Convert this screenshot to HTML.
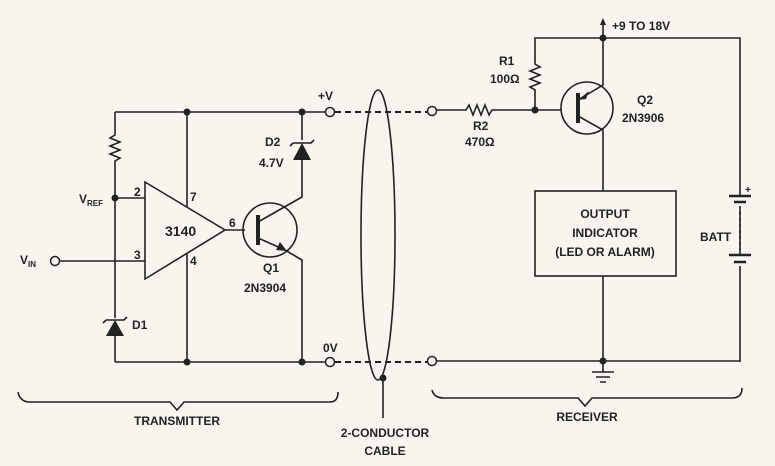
<!DOCTYPE html>
<html><head><meta charset="utf-8"><style>
html,body{margin:0;padding:0;background:#f7f5ee;}
svg{display:block;}
text{font-family:"Liberation Sans",sans-serif;fill:#222;font-weight:bold;}
</style></head><body>
<svg width="775" height="466" viewBox="0 0 775 466" xmlns="http://www.w3.org/2000/svg">
<rect width="775" height="466" fill="#f7f5ee"/>
<g stroke="#222" stroke-width="1.6" fill="none">
<path d="M115 112 H325 M115 362 H325"/>
<path d="M115 112 V135 l-5 3 10 4 -10 4 10 4 -10 4 10 4 -5 3 V198 V318 M115 336 V362"/>
<path d="M115 198 H145 M60 261 H145"/>
<path d="M145 182 L225 230 L145 279 Z"/>
<path d="M187 112 V207 M187 254 V362"/>
<path d="M225 230 H245"/>
<circle cx="270" cy="230" r="27"/>
<path d="M258 215 V245" stroke-width="4"/>
<path d="M258 222 L302 197 V160 M302 140 V112"/>
<path d="M258 238 L285 250 L302 260 V362"/>
<path d="M293 143 h18 l3 -3 M293 143 l-3 3"/>
<path d="M106 320 h18 l3 -3 M106 320 l-3 3"/>
<path d="M335 112 H428 M335 362 H428" stroke-dasharray="6 4" stroke-width="2"/>
<ellipse cx="378" cy="235" rx="17" ry="145"/>
<path d="M383 378 V418"/>
<path d="M437 110 H466 l3 -5 4 10 4 -10 4 10 4 -10 4 10 3 -5 H561"/>
<path d="M535 110 V90 l-5 -3 10 -4 -10 -4 10 -4 -10 -4 10 -4 -5 -3 V38 H740 V196 M740 206 V255 M740 266 V362"/>
<path d="M603 38 V20"/>
<circle cx="587" cy="108" r="26"/>
<path d="M578 93 V123" stroke-width="4"/>
<path d="M578 100 L603 85 V38 M578 116 L603 130 V191"/>
<rect x="535" y="191" width="141" height="85"/>
<path d="M603 276 V372 M437 361 H740"/>
<path d="M592 372 h22 M596 377 h14 M600 382 h6"/>
<path d="M729 196 h22 M734 202 h12 M729 255 h22 M734 262 h12" stroke-width="2.5"/>
<path d="M740 212 V250" stroke-dasharray="3 3"/>
<path d="M18 392 Q20 402 30 402 H170 L177 410 L184 402 H330 Q338 402 338 392"/>
<path d="M432 390 Q434 398 444 398 H578 L585 406 L592 398 H732 Q742 398 742 388"/>
</g>
<g fill="#222">
<circle cx="115" cy="198" r="3.5"/>
<circle cx="187" cy="112" r="3.5"/><circle cx="187" cy="362" r="3.5"/>
<circle cx="302" cy="112" r="3.5"/><circle cx="302" cy="362" r="3.5"/>
<circle cx="535" cy="110" r="3.5"/><circle cx="603" cy="38" r="3.5"/>
<circle cx="603" cy="361" r="3.5"/><circle cx="383" cy="378" r="3.5"/>
<path d="M293 160 L311 160 L302 143 Z"/>
<path d="M106 336 L124 336 L115 320 Z"/>
<path d="M287 251 L276 250 L280 242 Z"/>
<path d="M578 100 L589 91 L586 99 Z"/>
<path d="M603 18 l-3 7 h6 Z"/>
</g>
<g fill="#f7f5ee" stroke="#222" stroke-width="1.5">
<circle cx="55" cy="261" r="4.5"/><circle cx="330" cy="112" r="4.5"/><circle cx="330" cy="362" r="4.5"/>
<circle cx="432" cy="111" r="4.5"/><circle cx="432" cy="361" r="4.5"/>
</g>
<g font-size="12">
<text x="165" y="236" font-size="14">3140</text>
<text x="134" y="196">2</text><text x="134" y="259">3</text>
<text x="190" y="201">7</text><text x="190" y="265">4</text>
<text x="229" y="227">6</text>
<text x="79" y="203">V<tspan font-size="8" dy="3">REF</tspan></text>
<text x="20" y="264">V<tspan font-size="8" dy="3">IN</tspan></text>
<text x="265" y="146">D2</text><text x="259" y="167">4.7V</text>
<text x="132" y="329">D1</text>
<text x="263" y="272">Q1</text><text x="244" y="292">2N3904</text>
<text x="318" y="100">+V</text><text x="323" y="352">0V</text>
<text x="612" y="30">+9 TO 18V</text>
<text x="499" y="65">R1</text><text x="490" y="83">100Ω</text>
<text x="473" y="130">R2</text><text x="465" y="146">470Ω</text>
<text x="637" y="104">Q2</text><text x="622" y="122">2N3906</text>
<text x="605" y="218" text-anchor="middle">OUTPUT</text>
<text x="605" y="237" text-anchor="middle">INDICATOR</text>
<text x="605" y="256" text-anchor="middle">(LED OR ALARM)</text>
<text x="700" y="241">BATT</text>
<text x="745" y="193" font-size="10">+</text>
<text x="177" y="425" text-anchor="middle">TRANSMITTER</text>
<text x="385" y="437" text-anchor="middle">2-CONDUCTOR</text>
<text x="385" y="455" text-anchor="middle">CABLE</text>
<text x="587" y="421" text-anchor="middle">RECEIVER</text>
</g>
</svg>
</body></html>
